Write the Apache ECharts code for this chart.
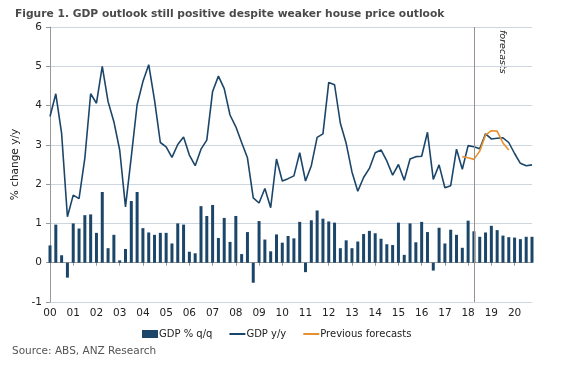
<!DOCTYPE html>
<html>
<head>
<meta charset="utf-8">
<script src="https://cdn.jsdelivr.net/npm/echarts@6/dist/echarts.min.js"></script>
<style>
  html, body { margin: 0; padding: 0; background: #fff; }
  #chart { width: 571px; height: 375px; }
</style>
</head>
<body>
<div id="chart"></div>
<script>
// quarterly, 2000 Q1 .. 2020 Q4
const years = ['00','01','02','03','04','05','06','07','08','09','10',
               '11','12','13','14','15','16','17','18','19','20'];
const quarters = [];
years.forEach(y => { for (let q = 1; q <= 4; q++) quarters.push(y + 'Q' + q); });

// GDP % q/q (bars)
const gdpQoq = [
  0.44, 0.97, 0.19, -0.38,  1.00, 0.87, 1.21, 1.23,  0.76, 1.80, 0.37, 0.71,
  0.06, 0.35, 1.57, 1.80,   0.88, 0.77, 0.71, 0.76,  0.76, 0.49, 1.00, 0.97,
  0.28, 0.24, 1.44, 1.19,   1.47, 0.63, 1.14, 0.53,  1.19, 0.22, 0.78, -0.51,
  1.06, 0.59, 0.29, 0.72,   0.51, 0.68, 0.62, 1.04,  -0.24, 1.08, 1.33, 1.12,
  1.05, 1.02, 0.37, 0.57,   0.37, 0.54, 0.73, 0.81,  0.75, 0.61, 0.47, 0.45,
  1.02, 0.20, 1.00, 0.52,   1.04, 0.78, -0.20, 0.89, 0.49, 0.84, 0.71, 0.38,
  1.07, 0.80, 0.66, 0.77,   0.94, 0.83, 0.69, 0.65,  0.64, 0.60, 0.66, 0.66
];

// GDP y/y (line)
const gdpYoy = [
  3.72, 4.30, 3.29, 1.17,  1.72, 1.63, 2.66, 4.30,  4.06, 5.00, 4.10, 3.59,
  2.87, 1.42, 2.70, 4.02,  4.61, 5.04, 4.14, 3.06,  2.95, 2.68, 3.01, 3.20,
  2.74, 2.47, 2.89, 3.12,  4.36, 4.75, 4.43, 3.76,  3.46, 3.06, 2.67, 1.65,
  1.52, 1.89, 1.40, 2.64,  2.08, 2.14, 2.21, 2.80,  2.08, 2.47, 3.19, 3.28,
  4.59, 4.53, 3.55, 3.04,  2.31, 1.82, 2.17, 2.40,  2.80, 2.87, 2.59, 2.23,
  2.50, 2.10, 2.64, 2.70,  2.71, 3.32, 2.12, 2.49,  1.91, 1.96, 2.89, 2.38,
  2.98, 2.95, 2.90, 3.28,  3.15, 3.17, 3.18, 3.06,  2.78, 2.53, 2.47, 2.49
];

// previous forecasts, 2017 Q4 .. 2019 Q4
const prevStart = 71;
const prevForecast = [2.70, 2.67, 2.63, 2.84, 3.25, 3.36, 3.35, 3.05, 2.87];

const forecastFrom = '18Q2';

const prevData = quarters.map((q, i) => {
  const k = i - prevStart;
  return (k >= 0 && k < prevForecast.length) ? prevForecast[k] : null;
});

const navy = '#1c4669';
const orange = '#e5922e';
const font = 'DejaVu Sans, Verdana, sans-serif';

const chart = echarts.init(document.getElementById('chart'));

chart.setOption({
  animation: false,
  title: {
    text: 'Figure 1. GDP outlook still positive despite weaker house price outlook',
    left: 10, top: 4,
    textStyle: { fontFamily: font, fontSize: 10.7, fontWeight: 'bold', color: '#4a4a4a' }
  },
  grid: { left: 50, right: 39, top: 27, bottom: 73 },
  legend: {
    left: 137, top: 324,
    itemWidth: 16, itemHeight: 8, itemGap: 16,
    textStyle: { fontFamily: font, fontSize: 10, color: '#222', padding: [0, 0, 0, -4] },
    data: [
      { name: 'GDP % q/q', icon: 'rect' },
      { name: 'GDP y/y', itemStyle: { opacity: 0 } },
      { name: 'Previous forecasts', itemStyle: { opacity: 0 } }
    ]
  },
  xAxis: [
    {
      type: 'category', data: quarters, boundaryGap: false,
      axisLine: { onZero: true, lineStyle: { color: '#999', width: 1 } },
      axisTick: { interval: 3, length: 3, lineStyle: { color: '#999' } },
      axisLabel: { show: false },
      splitLine: { show: false }
    },
    {
      type: 'category', data: quarters, boundaryGap: false, position: 'bottom',
      axisLine: { show: false, onZero: false },
      axisTick: { show: false },
      axisLabel: {
        interval: 3, margin: 6,
        fontFamily: font, fontSize: 10.5, color: '#222',
        formatter: v => v.slice(0, 2)
      }
    }
  ],
  yAxis: {
    type: 'value', min: -1, max: 6, interval: 1,
    name: '% change y/y', nameLocation: 'middle', nameGap: 28,
    nameTextStyle: { fontFamily: font, fontSize: 10.5, color: '#222' },
    axisLine: { show: true, lineStyle: { color: '#999' } },
    axisTick: { show: true, length: 4, lineStyle: { color: '#999' } },
    axisLabel: { fontFamily: font, fontSize: 10.5, color: '#222', margin: 8 },
    splitLine: { lineStyle: { color: '#cdd6de', width: 1 } }
  },
  series: [
    {
      name: 'GDP % q/q', type: 'bar', data: gdpQoq, barWidth: 3,
      itemStyle: { color: navy },
      markLine: {
        silent: true, symbol: 'none', label: { show: false },
        lineStyle: { color: '#9c918a', width: 1, type: 'solid' },
        data: [{ xAxis: forecastFrom }]
      }
    },
    {
      name: 'GDP y/y', type: 'line', data: gdpYoy, symbol: 'none',
      lineStyle: { color: navy, width: 1.6 }, itemStyle: { color: navy }
    },
    {
      name: 'Previous forecasts', type: 'line', data: prevData, symbol: 'none',
      lineStyle: { color: orange, width: 1.6 }, itemStyle: { color: orange }
    }
  ],
  graphic: [
    {
      type: 'text', x: 507, y: 30, rotation: -Math.PI / 2,
      style: { text: 'forecasts', fontFamily: font, fontSize: 9.5, fontStyle: 'italic', fill: '#222' }
    },
    {
      type: 'text', left: 12, top: 346,
      style: { text: 'Source: ABS, ANZ Research', fontFamily: font, fontSize: 10.5, fill: '#555' }
    }
  ]
});
</script>
</body>
</html>
